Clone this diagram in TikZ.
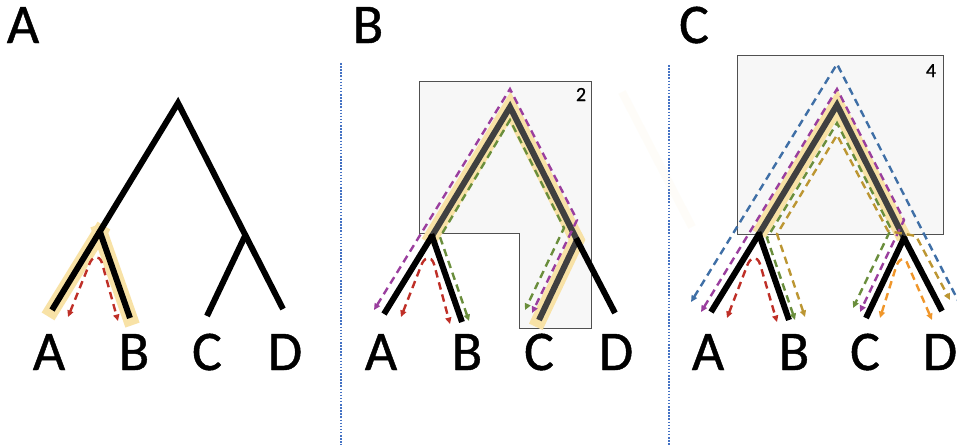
\documentclass[tikz,border=0pt]{standalone}
\usepackage{fontspec}
\setmainfont{Carlito}
\newfontfamily\lblfont{Carlito}[FakeBold=0.8]
\usetikzlibrary{arrows.meta}
\definecolor{hlc}{HTML}{F8E2A6}
\definecolor{boxfill}{HTML}{F7F7F7}
\definecolor{boxline}{HTML}{505050}
\definecolor{cred}{HTML}{BF2F27}
\definecolor{cpurple}{HTML}{9A3E9E}
\definecolor{cgreen}{HTML}{6A8E3C}
\definecolor{cblue}{HTML}{3F6FA6}
\definecolor{cochre}{HTML}{BC9632}
\definecolor{corange}{HTML}{F0962A}
\definecolor{sepblue}{HTML}{4472C4}
\definecolor{hlline}{HTML}{404040}
\newcommand\mktree[1]{%
  \coordinate (#1R) at (0,0);
  \coordinate (#1L) at (-78,129);
  \coordinate (#1N) at (67,133);
  \coordinate (#1A) at (-126,207);
  \coordinate (#1B) at (-48,215);
  \coordinate (#1C) at (29,213);
  \coordinate (#1D) at (105,206);}
\begin{document}
\begin{tikzpicture}[x=1pt,y=-1pt,
  branch/.style={line width=6pt, line cap=butt, line join=miter},
  hlbranch/.style={branch, draw=hlline},
  glow/.style={draw=hlc, line width=15pt, line cap=rect, line join=miter},
  tour/.style={line width=2.4pt, dash pattern=on 7.5pt off 5pt,
    >={Triangle[length=6.5pt,width=6pt]}, <->},
  leaf/.style={font=\lblfont\fontsize{56}{56}\selectfont, anchor=base, inner sep=0pt},
  num/.style={font=\lblfont\fontsize{20}{20}\selectfont, anchor=base, inner sep=0pt},
  sep/.style={draw=sepblue, line width=1.5pt, dash pattern=on 1.5pt off 1.6pt},
  frame/.style={fill=boxfill, draw=boxline, line width=0.9pt}
]
\clip (0,0) rectangle (957,445);
\fill[white] (0,0) rectangle (957,445);

% coordinates of the three trees
\begin{scope}[shift={(178,103)}]\mktree{a}\end{scope}
\begin{scope}[shift={(510,107)}]\mktree{b}\end{scope}
\begin{scope}[shift={(837,105)}]\mktree{c}\end{scope}

% separators
\draw[sep] (341,63) -- (341,445);
\draw[sep] (669,65) -- (669,445);

% boxes
\draw[frame] (419,81) -- (591,81) -- (591,328) -- (519,328) -- (519,233) -- (419,233) -- cycle;
\draw[frame] (737,55) rectangle (943,234);
\node[num] (n2) at (581,101) {2};
\node[num] (n4) at (931,77) {4};

% faint ghost stroke
\draw[draw=hlc, line width=8pt, opacity=0.07] (622,92) -- (692,227);

% highlights
\draw[glow] (aL) -- (aA);
\draw[glow] (aL) -- (aB);
\draw[glow] (bL) -- (bR) -- (bN) -- (bC);
\draw[glow, line cap=butt] (cL) -- (cR) -- (cN);

% panel A tree
\draw[branch] (aA) -- (aR) -- (aD);
\draw[branch, shorten <=-2pt] (aL) -- (aB);
\draw[branch, shorten <=-2pt] (aN) -- (aC);

% panel B tree
\draw[hlbranch] (bL) -- (bR) -- (bN) -- (bC);
\draw[branch, shorten <=-1pt] (bL) -- (bA);
\draw[branch, shorten <=-2pt] (bL) -- (bB);
\draw[branch, shorten <=-2pt] (bN) -- (bD);

% panel C tree
\draw[hlbranch] (cL) -- (cR) -- (cN);
\draw[branch, shorten <=-1pt] (cL) -- (cA);
\draw[branch, shorten <=-2pt] (cL) -- (cB);
\draw[branch, shorten <=-2pt] (cN) -- (cC);
\draw[branch, shorten <=-1pt] (cN) -- (cD);

% tours panel A
\draw[tour, cred] (68,317) -- (89,265) .. controls (92,256) and (99,254) .. (102,263) -- (118,321);

% tours panel B
\draw[tour, cred] (401,317) -- (421,266) .. controls (424,257) and (431,255) .. (434,264) -- (450,324);
\draw[tour, cpurple] (374,310) -- (510,89) -- (577,220) -- (532,313);
\draw[tour, cgreen] (469,321) -- (440,237) -- (510,120) -- (564,228) -- (525,310);

% tours panel C
\draw[tour, cblue] (691,302) -- (837,64) -- (967,318);
\draw[tour, cpurple] (701,312) -- (837,89) -- (904,220) -- (860,312);
\draw[tour, cgreen] (795,320) -- (767,238) -- (837,123) -- (891,229) -- (853,308);
\draw[tour, cochre] (805,317) -- (777,234) -- (837,135) -- (888,231) -- (916,236) -- (950,300);
\draw[tour, cred] (727,318) -- (747,266) .. controls (750,257) and (757,255) .. (760,264) -- (777,322);
\draw[tour, corange] (880,318) -- (896,267) .. controls (899,258) and (905,256) .. (908,265) -- (932,320);

% labels
\node[leaf] (ta) at (23,43) {A};
\node[leaf] (tb) at (368,43) {B};
\node[leaf] (tc) at (694,43) {C};
\node[leaf] (la1) at (49,370) {A};
\node[leaf] (lb1) at (134,370) {B};
\node[leaf] (lc1) at (207,370) {C};
\node[leaf] (ld1) at (285,370) {D};
\node[leaf] (la2) at (381,370) {A};
\node[leaf] (lb2) at (467,370) {B};
\node[leaf] (lc2) at (539,370) {C};
\node[leaf] (ld2) at (616,370) {D};
\node[leaf] (la3) at (708,370) {A};
\node[leaf] (lb3) at (794,370) {B};
\node[leaf] (lc3) at (865,370) {C};
\node[leaf] (ld3) at (940,370) {D};
\end{tikzpicture}
\end{document}
